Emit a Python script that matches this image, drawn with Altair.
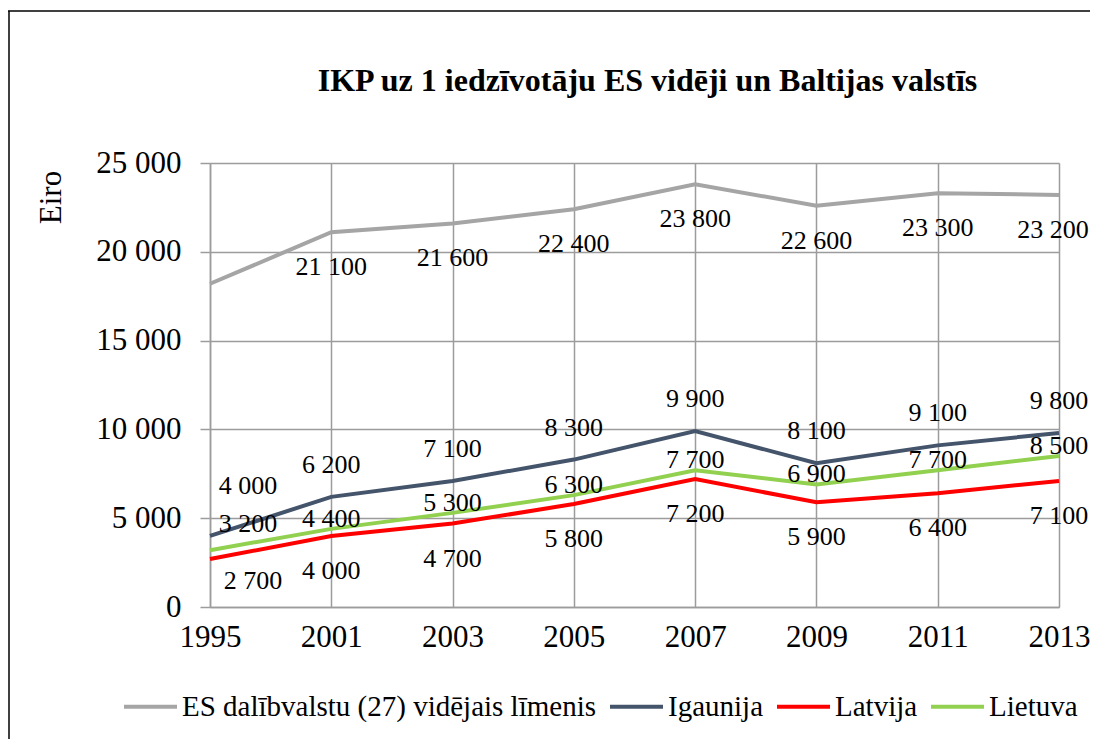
import altair as alt
import pandas as pd

# ---- data ----
years = ["1995", "2001", "2003", "2005", "2007", "2009", "2011", "2013"]
es_values = [18200, 21100, 21600, 22400, 23800, 22600, 23300, 23200]
igaunija_values = [4000, 6200, 7100, 8300, 9900, 8100, 9100, 9800]
latvija_values = [2700, 4000, 4700, 5800, 7200, 5900, 6400, 7100]
lietuva_values = [3200, 4400, 5300, 6300, 7700, 6900, 7700, 8500]
es_label_shown = [False, True, True, True, True, True, True, True]

series_names = ["ES dalībvalstu (27) vidējais līmenis", "Igaunija", "Latvija", "Lietuva"]
series_values = [es_values, igaunija_values, latvija_values, lietuva_values]
series_label_shown = [es_label_shown, [True] * 8, [True] * 8, [True] * 8]
colors = ["#A5A5A5", "#44546A", "#FF0000", "#92D050"]

title_text = "IKP uz 1 iedzīvotāju ES vidēji un Baltijas valstīs"
y_title = "Eiro"
y_ticks = [0, 5000, 10000, 15000, 20000, 25000]

rows = []
for name, vals, shown in zip(series_names, series_values, series_label_shown):
    for yr, v, s in zip(years, vals, shown):
        rows.append({
            "year": yr,
            "series": name,
            "value": v,
            "label": f"{v:,}".replace(",", " ") if s else "",
        })
df = pd.DataFrame(rows)

FONT = "Liberation Serif"
GRID = "#9C9C9C"

x_enc = alt.X(
    "year:O",
    sort=years,
    scale=alt.Scale(type="point", padding=0),
    axis=alt.Axis(
        title=None, labelAngle=0, grid=True, ticks=False, labelFontSize=31,
        labelPadding=15, domainColor=GRID, gridColor=GRID, gridWidth=1.5,
        domainWidth=1.5, labelColor="black", labelFont=FONT,
    ),
)
y_enc = alt.Y(
    "value:Q",
    scale=alt.Scale(domain=[0, 25000], nice=False, zero=True),
    axis=alt.Axis(
        values=y_ticks, title=y_title, titleFontSize=31, titleFontWeight="normal",
        titleFont=FONT, titleColor="black", titleAngle=270, titleX=-159, titleY=34,
        titleAlign="center", titleBaseline="middle",
        tickSize=10, tickColor=GRID, tickWidth=1.5, labelPadding=19,
        labelFontSize=31, labelFont=FONT, labelColor="black",
        labelExpr="replace(format(datum.value, ','), ',', ' ')",
        domainColor=GRID, domainWidth=1.5, gridColor=GRID, gridWidth=1.5,
    ),
)

lines = alt.Chart(df).mark_line(strokeWidth=4).encode(
    x=x_enc,
    y=y_enc,
    color=alt.Color(
        "series:N",
        scale=alt.Scale(domain=series_names, range=colors),
        legend=alt.Legend(
            title=None, orient="none", legendX=-88, legendY=515,
            direction="horizontal", symbolType="stroke", symbolSize=2809,
            symbolStrokeWidth=4, labelFontSize=29, labelFont=FONT,
            labelColor="black", labelOffset=3, columnPadding=5, padding=0,
            labelLimit=0,
        ),
    ),
    order=alt.Order("year:O"),
)

# label offsets per series: default (dx, dy) plus overrides for some years
label_style = {
    series_names[0]: {"default": (0, 35), years[-1]: (-6, 35)},
    series_names[1]: {"default": (0, -32), years[0]: (38, -50)},
    series_names[2]: {"default": (0, 35), years[0]: (43, 22)},
    series_names[3]: {"default": (0, -10), years[0]: (38, -26)},
}

text_layers = []
for name in series_names:
    style = label_style[name]
    special = [k for k in style if k != "default"]
    dx0, dy0 = style["default"]
    pred = (alt.datum.series == name) & (alt.datum.label != "")
    for k in special:
        pred = pred & (alt.datum.year != k)
    text_layers.append(
        alt.Chart(df).transform_filter(pred)
        .mark_text(dx=dx0, dy=dy0, fontSize=26, font=FONT, color="black")
        .encode(x=x_enc, y=y_enc, text="label:N")
    )
    for k in special:
        dxk, dyk = style[k]
        text_layers.append(
            alt.Chart(df).transform_filter(
                (alt.datum.series == name) & (alt.datum.label != "") & (alt.datum.year == k)
            )
            .mark_text(dx=dxk, dy=dyk, fontSize=26, font=FONT, color="black")
            .encode(x=x_enc, y=y_enc, text="label:N")
        )

frame_df = pd.DataFrame({"k": [0]})
top_border = alt.Chart(frame_df).mark_rule(color="black", strokeWidth=1.5).encode(
    x=alt.value(-202), x2=alt.value(900), y=alt.value(-152)
)
left_border = alt.Chart(frame_df).mark_rule(color="black", strokeWidth=1.5).encode(
    x=alt.value(-201), y=alt.value(-152), y2=alt.value(600)
)

chart = alt.layer(lines, *text_layers, top_border, left_border).properties(
    width=849,
    height=444,
    title=alt.TitleParams(
        title_text, font=FONT, fontSize=32, fontWeight="bold", color="black",
        anchor="middle", offset=-88, dx=13,
    ),
    autosize=alt.AutoSizeParams(type="none"),
    padding={"left": 202, "top": 155, "right": 31, "bottom": 132},
).configure_view(stroke=None).configure(background="white").configure_text(font=FONT)

chart.save("out.html", embed_options={"renderer": "svg", "actions": False})
